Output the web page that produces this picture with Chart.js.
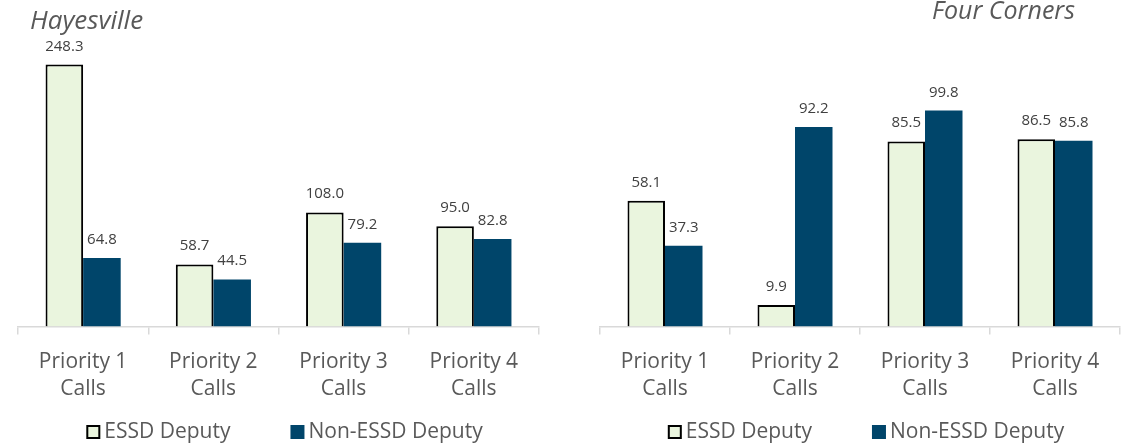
<!DOCTYPE html>
<html><head><meta charset="utf-8">
<script src="https://cdn.jsdelivr.net/npm/chart.js@4.4.1/dist/chart.umd.min.js"></script>
<style>
html,body{margin:0;padding:0;background:#fff;}
#wrap{position:relative;width:1138px;height:445px;overflow:hidden;font-family:"Open Sans",sans-serif;}
.box{position:absolute;top:0;width:569px;height:445px;}
.title{position:absolute;font-style:italic;line-height:24px;color:#595959;white-space:nowrap;}
</style></head>
<body><div id="wrap">
<div class="box" style="left:0"><canvas id="c1" width="569" height="445"></canvas></div>
<div class="box" style="left:569px"><canvas id="c2" width="569" height="445"></canvas></div>
<div class="title" style="left:30px;top:7px;font-size:26px">Hayesville</div>
<div class="title" style="right:63px;top:-3px;font-size:25px">Four Corners</div>
</div>
<script>
const categories = [['Priority 1','Calls'],['Priority 2','Calls'],['Priority 3','Calls'],['Priority 4','Calls']];
const seriesNames = ['ESSD Deputy','Non-ESSD Deputy'];
const hayesvilleEssd = [248.3, 58.7, 108.0, 95.0];
const hayesvilleNonEssd = [64.8, 44.5, 79.2, 82.8];
const fourCornersEssd = [58.1, 9.9, 85.5, 86.5];
const fourCornersNonEssd = [37.3, 92.2, 99.8, 85.8];

const LIGHT = '#EAF5DE';
const DARK = '#00456A';
const TEXT = '#595959';

const valueLabels = {
  id:'valueLabels',
  afterDatasetsDraw(chart){
    const ctx = chart.ctx;
    ctx.save();
    ctx.font = '15px "Open Sans"';
    ctx.fillStyle = '#404040';
    ctx.textAlign = 'center';
    ctx.textBaseline = 'alphabetic';
    chart.data.datasets.forEach((ds, di) => {
      chart.getDatasetMeta(di).data.forEach((el, i) => {
        ctx.fillText(ds.data[i].toFixed(1), el.x, el.y - 14);
      });
    });
    ctx.restore();
  }
};

const customLegend = {
  id:'customLegend',
  afterDraw(chart, args, opts){
    const ctx = chart.ctx, a = chart.chartArea;
    ctx.save();
    ctx.font = '21px "Open Sans"';
    ctx.textBaseline = 'middle';
    ctx.textAlign = 'left';
    const items = chart.data.datasets.map(ds => ({text: ds.label, fill: ds.backgroundColor, stroke: ds.borderWidth ? ds.borderColor : null}));
    const box = 14, gap = 4, spacing = 60;
    const widths = items.map(it => box + gap + ctx.measureText(it.text).width);
    const total = widths.reduce((s, w) => s + w, 0) + spacing * (items.length - 1);
    let x = (a.left + a.right) / 2 + opts.shift - total / 2;
    const y = opts.y;
    items.forEach((it, i) => {
      ctx.fillStyle = it.fill;
      ctx.fillRect(x, y - box / 2, box, box);
      if (it.stroke) {
        ctx.lineWidth = 2;
        ctx.strokeStyle = it.stroke;
        ctx.strokeRect(x + 1, y - box / 2 + 1, box - 2, box - 2);
      }
      ctx.fillStyle = TEXT;
      ctx.fillText(it.text, x + box + gap, y);
      x += widths[i] + spacing;
    });
    ctx.restore();
  }
};

function makeChart(id, essd, non, yMax, pad){
  return new Chart(document.getElementById(id), {
    type:'bar',
    data:{
      labels: categories,
      datasets:[
        {label: seriesNames[0], data: essd, backgroundColor: LIGHT, borderColor:'#000000', borderWidth:2, borderSkipped:'start', barPercentage:1, categoryPercentage:0.577},
        {label: seriesNames[1], data: non, backgroundColor: DARK, borderWidth:0, barPercentage:1, categoryPercentage:0.577}
      ]
    },
    options:{
      responsive:false,
      animation:false,
      layout:{padding: pad},
      plugins:{
        legend:{display:false},
        title:{display:false},
        tooltip:{enabled:false},
        customLegend:{shift:6, y:432}
      },
      scales:{
        x:{
          grid:{display:true, drawOnChartArea:false, drawTicks:true, tickLength:8, color:'#D9D9D9', lineWidth:1.5, offset:true},
          border:{display:true, color:'#D9D9D9', width:1.5},
          ticks:{color:TEXT, padding:14, font:{family:'"Open Sans"', size:21, lineHeight:1.3}, maxRotation:0, autoSkip:false}
        },
        y:{display:false, min:0, max:yMax}
      }
    },
    plugins:[valueLabels, customLegend]
  });
}

makeChart('c1', hayesvilleEssd, hayesvilleNonEssd, 300, {left:18, right:30, top:10, bottom:28});
makeChart('c2', fourCornersEssd, fourCornersNonEssd, 150, {left:31, right:18, top:2, bottom:28});
</script>
</body></html>
